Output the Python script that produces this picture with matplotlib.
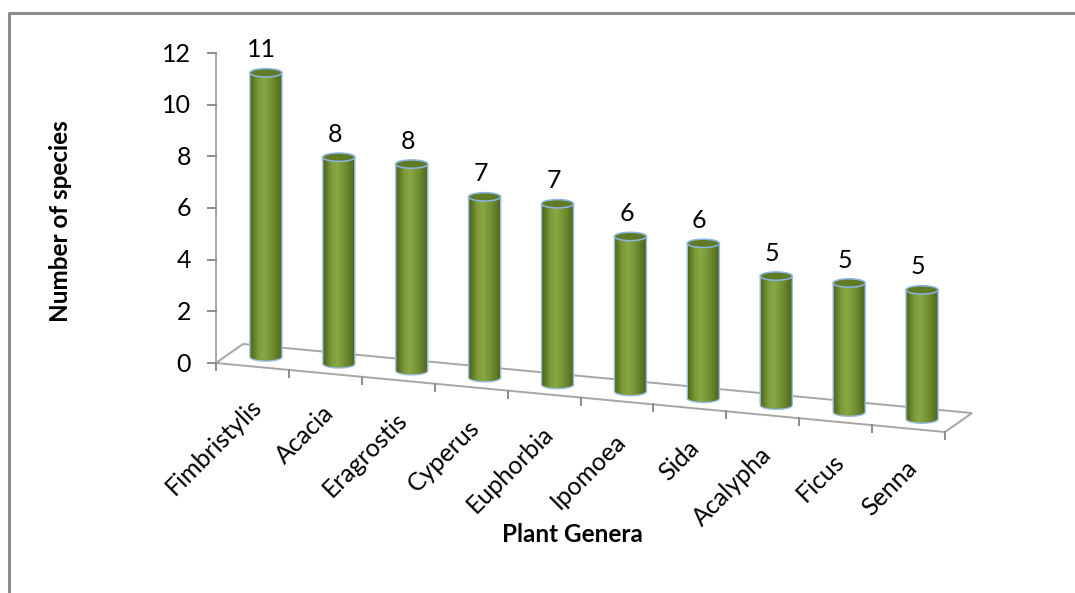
import numpy as np
import matplotlib
matplotlib.use("Agg")
import matplotlib.pyplot as plt
from matplotlib.transforms import Affine2D
from matplotlib.patches import Polygon, Ellipse
from matplotlib.colors import LinearSegmentedColormap

# ---- data ----
genera = ["Fimbristylis", "Acacia", "Eragrostis", "Cyperus", "Euphorbia",
          "Ipomoea", "Sida", "Acalypha", "Ficus", "Senna"]
species = [11, 8, 8, 7, 7, 6, 6, 5, 5, 5]
y_ticks = [0, 2, 4, 6, 8, 10, 12]

FONT = "Lato"
FS = 18          # tick, category and value labels
FS_TITLE = 17.5  # axis titles (bold)
W, H = 1075, 593
fig = plt.figure(figsize=(W / 100, H / 100), dpi=100)
fig.patch.set_facecolor("white")

# plane that carries the category / value scales (front wall of the 3-D box)
n = len(genera)
ax = fig.add_axes([216 / W, 1 - 363 / H, 729 / W, 310 / H])
ax.set_xlim(0, n)
ax.set_ylim(0, max(y_ticks))
ax.axis("off")

# overlay in pixel units on which the projected shapes are drawn
ov = fig.add_axes([0, 0, 1, 1], zorder=3)
ov.set_xlim(0, W)
ov.set_ylim(H, 0)
ov.axis("off")

# oblique projection: the floor falls to the right, depth goes up-right
slope = 0.0947
s = slope * (729 / 310)
shear = Affine2D.from_values(1, -s, 0, 1, 0, 0)
front = ax.transScale + ax.transLimits + shear + ax.transAxes
to_px = front + ov.transData.inverted()
DEPTH = np.array([27.0, -19.0])


def P(x, y, d=0.0):
    return to_px.transform((x, y)) + d * DEPTH


grey = "#a6a6a6"

# floor
floor = [P(0, 0), P(n, 0), P(n, 0, 1), P(0, 0, 1)]
ov.add_patch(Polygon(floor, closed=True, facecolor="white", edgecolor=grey,
                     lw=1.4, zorder=1))

# category ticks on the front edge
for k in range(n + 1):
    p = P(k, 0)
    ov.plot([p[0], p[0]], [p[1], p[1] + 7], color="#8c8c8c", lw=1.4, zorder=1)

# value axis
p0, p1 = P(0, 0), P(0, max(y_ticks))
ov.plot([p0[0], p1[0]], [p0[1], p1[1]], color=grey, lw=1.4, zorder=1)
for v in y_ticks:
    p = P(0, v)
    ov.plot([p[0] - 8, p[0]], [p[1], p[1]], color="#8c8c8c", lw=1.4, zorder=1)
    ov.text(p[0] - 25, p[1] + 1, str(v), ha="right", va="center",
            fontsize=FS, family=FONT, color="black")

# cylinders
cmap = LinearSegmentedColormap.from_list(
    "cyl", [(0.0, "#4b6419"), (0.25, "#7c9b3a"), (0.42, "#88a845"),
            (0.7, "#6f8d30"), (1.0, "#4a631b")])
grad = np.linspace(0, 1, 64).reshape(1, -1)
half_w = 0.22
for k, v in enumerate(species):
    c = k + 0.5
    b = P(c, 0, 0.5)
    t = P(c, v, 0.5)
    r = P(c + half_w, 0)[0] - P(c, 0)[0]
    ry = r * 0.26
    # body: the two sides plus the lower half of the base ellipse
    th = np.linspace(np.pi, 0, 40)
    arc = np.column_stack([b[0] + r * np.cos(th), b[1] + ry * np.sin(th)])
    verts = np.vstack([[t[0] - r, t[1]], arc, [t[0] + r, t[1]], [t[0] - r, t[1]]])
    ov.add_patch(Polygon(verts, closed=True, facecolor="none",
                         edgecolor="#9bbde6", lw=1.0, zorder=4))
    im = ov.imshow(grad, cmap=cmap, aspect="auto", zorder=3,
                   extent=(t[0] - r, t[0] + r, b[1] + ry + 1, t[1]),
                   interpolation="bilinear")
    im.set_clip_path(Polygon(verts, closed=True, transform=ov.transData))
    ov.add_patch(Ellipse(t, 2 * r, 2 * ry, facecolor="#5f7b25",
                         edgecolor="#8db4e2", lw=1.1, zorder=5))
    ov.text(t[0] - 4, t[1] - 23, str(v), ha="center", va="center",
            fontsize=FS, family=FONT, color="black", zorder=6)

# category labels
for k, g in enumerate(genera):
    p = P(k + 0.5, 0) + np.array([-3.0, 28.0])
    ov.text(p[0], p[1], g, rotation=45, ha="right", va="top",
            rotation_mode="anchor", fontsize=FS, family=FONT, color="black")

# axis titles
ov.text(60, 221, "Number of species", rotation=90, ha="center", va="center",
        fontsize=FS_TITLE, fontweight="bold", family=FONT)
ov.text(572, 535, "Plant Genera", ha="center", va="center",
        fontsize=FS_TITLE, fontweight="bold", family=FONT)

# chart frame
ov.plot([9, 9, W + 5], [H + 5, 13, 13], color="#8c8c8c", lw=2.2, zorder=7,
        clip_on=False)

fig.savefig("out.png", dpi=100, facecolor="white")
